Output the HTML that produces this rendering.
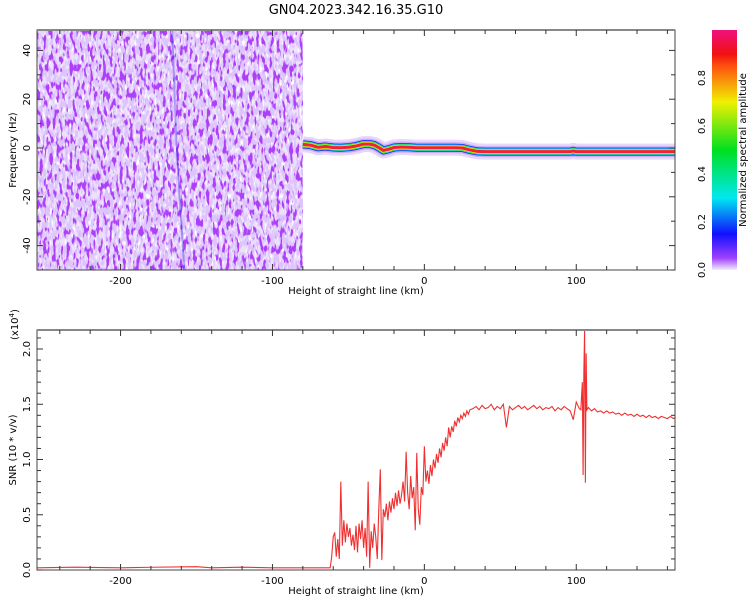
<!DOCTYPE html>
<html><head><meta charset="utf-8"><style>
body{margin:0;background:#fff;}
svg{display:block;font-family:"DejaVu Sans","Liberation Sans",sans-serif;}
</style></head><body>
<svg id="c" width="750" height="600" viewBox="0 0 750 600">
<defs>
<filter id="noiseDark" x="0" y="0" width="100%" height="100%">
<feTurbulence type="fractalNoise" baseFrequency="0.3 0.11" numOctaves="2" seed="3"/>
<feColorMatrix type="matrix" values="0 0 0 0 0.42  0 0 0 0 0.05  0 0 0 0 0.95  10 0 0 0 -5.4"/>
</filter>
<filter id="noiseLight" x="0" y="0" width="100%" height="100%">
<feTurbulence type="fractalNoise" baseFrequency="0.35 0.13" numOctaves="2" seed="11"/>
<feColorMatrix type="matrix" values="0 0 0 0 0.72  0 0 0 0 0.55  0 0 0 0 0.97  8 0 0 0 -3.4"/>
</filter>
<filter id="noiseWhite" x="0" y="0" width="100%" height="100%">
<feTurbulence type="fractalNoise" baseFrequency="0.4 0.15" numOctaves="1" seed="27"/>
<feColorMatrix type="matrix" values="0 0 0 0 1  0 0 0 0 1  0 0 0 0 1  10 0 0 0 -5.8"/>
</filter>
<linearGradient id="cbar" x1="0" y1="1" x2="0" y2="0">
<stop offset="0" stop-color="#f4ecfc"/><stop offset="0.05" stop-color="#a040ff"/>
<stop offset="0.15" stop-color="#1010ff"/><stop offset="0.3" stop-color="#00e8f0"/>
<stop offset="0.5" stop-color="#00e020"/><stop offset="0.7" stop-color="#f0f000"/>
<stop offset="0.85" stop-color="#ff5010"/><stop offset="0.9" stop-color="#f01010"/>
<stop offset="1" stop-color="#f01080"/>
</linearGradient>
<clipPath id="clipTop"><rect x="37" y="30" width="638" height="240"/></clipPath>
<clipPath id="clipBot"><rect x="37" y="330" width="638" height="240"/></clipPath>
</defs>
<text x="356" y="14" text-anchor="middle" font-size="13">GN04.2023.342.16.35.G10</text>
<g id="topPanel"></g>
<g id="botPanel"></g>
<g>
<rect x="712" y="30" width="25" height="240" fill="url(#cbar)"/>
<text transform="translate(746,150) rotate(-90)" text-anchor="middle" font-size="10">Normalized spectral amplitude</text>
<g id="cbt"></g>
</g>
</svg>
<script>
const NS='http://www.w3.org/2000/svg';
function mk(p,t,a){const e=document.createElementNS(NS,t);for(const k in a)e.setAttribute(k,a[k]);p.appendChild(e);return e;}
const xMin=-255,xMax=165,L=37,R=675;
const xTicks=[-200,-100,0,100];
const topYTicks=[-40,-20,0,20,40];
const botYTicks=[0.0,0.5,1.0,1.5,2.0];
const cbTicks=[0.0,0.2,0.4,0.6,0.8];
const noiseEndKm=-80;
const bandKm=[-80,-75,-70,-65,-60,-55,-50,-45,-40,-36,-33,-30,-27,-24,-20,-15,-10,-5,0,10,20,25,30,35,40,60,80,96,98,100,120,140,165];
const bandHz=[1.5,1.2,0.3,0.6,0.2,0.1,0.3,0.8,1.6,1.6,1.2,0.2,-1.0,-0.6,0.2,0.4,0.3,0.1,0.1,0.1,0.1,0.0,-0.8,-1.4,-1.5,-1.5,-1.5,-1.5,-1.2,-1.5,-1.5,-1.5,-1.5];
const snrKm=[-255,-230,-200,-180,-150,-140,-120,-100,-80,-63,
-62,-61,-60,-59,-58,-57,-56,-55,-54,-53,-52,-51,-50,-49,-48,-47,-46,-45,-44,-43,-42,-41,-40,-39,-38,-37,-36,-35,-34,-33,-32,-31,-30,-29,-28,-27,-26,-25,-24,-23,-22,-21,-20,-19,-18,-17,-16,-15,-14,-13,-12,-11,-10,-9,-8,-7,-6,-5,-4,-3,-2,-1,0,1,2,3,4,5,6,7,8,9,10,11,12,13,14,15,16,17,18,19,20,21,22,23,24,25,26,27,28,29,30,
32,34,36,38,40,42,44,46,48,50,52,54,56,58,60,62,64,66,68,70,72,74,76,78,80,82,84,86,88,90,92,94,96,98,100,102,
103,104,104.5,105,105.5,106,106.5,107,108,
110,112,114,116,118,120,122,124,126,128,130,132,134,136,138,140,142,144,146,148,150,152,154,156,158,160,162,164,165];
const snrVal=[0.02,0.025,0.02,0.025,0.03,0.02,0.025,0.02,0.02,0.02,
0.02,0.12,0.30,0.34,0.12,0.28,0.10,0.80,0.22,0.45,0.25,0.42,0.30,0.38,0.22,0.32,0.18,0.40,0.16,0.42,0.28,0.45,0.20,0.38,0.12,0.80,0.02,0.35,0.20,0.42,0.30,0.10,0.55,0.91,0.09,0.55,0.48,0.60,0.45,0.62,0.52,0.65,0.55,0.70,0.58,0.72,0.60,0.68,0.80,0.62,1.07,0.70,0.55,0.85,0.65,0.75,0.36,1.06,0.55,0.41,0.75,0.68,1.12,0.80,0.90,0.78,0.95,0.85,1.00,0.92,1.05,0.97,1.10,1.02,1.15,1.08,1.20,1.12,1.29,1.20,1.30,1.25,1.35,1.30,1.38,1.34,1.40,1.37,1.42,1.39,1.44,1.41,1.45,
1.46,1.48,1.45,1.49,1.46,1.47,1.50,1.45,1.48,1.46,1.50,1.29,1.48,1.45,1.47,1.49,1.46,1.48,1.45,1.47,1.49,1.46,1.48,1.45,1.47,1.46,1.48,1.44,1.47,1.45,1.48,1.46,1.44,1.36,1.52,1.46,
1.45,1.70,0.86,1.80,2.17,0.79,1.96,1.45,1.47,
1.44,1.46,1.43,1.44,1.42,1.44,1.42,1.43,1.41,1.42,1.40,1.42,1.40,1.41,1.39,1.41,1.39,1.40,1.38,1.40,1.38,1.39,1.37,1.39,1.38,1.37,1.39,1.37,1.38];

const X=v=>L+(v-xMin)/(xMax-xMin)*(R-L);
const Yt=v=>148-v*2.44;
const Yb=v=>570-v*110.5;

function frame(g,y0,y1,yTicksMaj,yMinorStep,yMin,yMax,Y,fmt){
  mk(g,'rect',{x:L,y:y0,width:R-L,height:y1-y0,fill:'none',stroke:'#444','stroke-width':1});
  mk(g,'line',{x1:L,y1:y0,x2:R,y2:y0,stroke:'#888','stroke-width':2});
  for(let v=-240;v<=160;v+=20){const x=X(v);const maj=xTicks.includes(v);const len=maj?6:4;
    mk(g,'line',{x1:x,y1:y0,x2:x,y2:y0+len,stroke:'#333'});
    mk(g,'line',{x1:x,y1:y1,x2:x,y2:y1-len,stroke:'#333'});}
  xTicks.forEach(v=>{const t=mk(g,'text',{x:X(v),y:y1+14,'text-anchor':'middle','font-size':10});t.textContent=v;
    
    });
  for(let i=0;yMin+i*yMinorStep<=yMax+1e-9;i++){const v=yMin+i*yMinorStep;const y=Y(v);if(y<y0-0.5||y>y1+0.5)continue;
    const maj=yTicksMaj.some(m=>Math.abs(m-v)<1e-6);const len=maj?6:4;
    mk(g,'line',{x1:L,y1:y,x2:L+len,y2:y,stroke:'#333'});
    mk(g,'line',{x1:R,y1:y,x2:R-len,y2:y,stroke:'#333'});}
  yTicksMaj.forEach(v=>{const y=Y(v);const t=mk(g,'text',{transform:`translate(30,${y}) rotate(-90)`,'text-anchor':'middle','font-size':10});t.textContent=fmt(v);
    
    });
  const xl=mk(g,'text',{x:356,y:y1+24,'text-anchor':'middle','font-size':10});xl.textContent='Height of straight line (km)';
  
  
}
const topG=document.getElementById('topPanel');
const nx0=X(xMin),nx1=X(noiseEndKm);
const bg=mk(topG,'rect',{x:nx0,y:30,width:nx1-nx0,height:240,fill:'#ece0fb'});


const nw=mk(topG,'rect',{x:nx0,y:30,width:nx1-nx0,height:240,filter:'url(#noiseWhite)'});


const nl=mk(topG,'rect',{x:nx0,y:30,width:nx1-nx0,height:240,filter:'url(#noiseLight)'});


const nd=mk(topG,'rect',{x:nx0,y:30,width:nx1-nx0,height:240,filter:'url(#noiseDark)'});


const streak=mk(topG,'path',{d:`M${X(-166)},30 L${X(-163)},150 L${X(-158)},270`,stroke:'#3020e0','stroke-width':2,fill:'none',opacity:0.35});


const bandPts=bandKm.map((k,i)=>X(k)+','+Yt(bandHz[i])).join(' ');
[['#e6d6fa',16,1],['#c4a0f4',11,0.8],['#2020ff',8,1],['#00d8e8',6.5,1],['#40e040',5.5,1],['#f0f000',4.2,1],['#f02040',3,1]].forEach(s=>{
  const p=mk(topG,'polyline',{points:bandPts,fill:'none',stroke:s[0],'stroke-width':s[1],opacity:s[2],'stroke-linejoin':'round','clip-path':'url(#clipTop)'});
  
  });
frame(topG,30,270,topYTicks,10,-50,50,Yt,v=>v);
const yl=mk(topG,'text',{transform:'translate(16,150) rotate(-90)','text-anchor':'middle','font-size':10});yl.textContent='Frequency (Hz)';


const botG=document.getElementById('botPanel');
const line=mk(botG,'polyline',{points:snrKm.map((k,i)=>X(k)+','+Yb(snrVal[i])).join(' '),fill:'none',stroke:'#f03030','stroke-width':1.1,'clip-path':'url(#clipBot)'});


frame(botG,330,570,botYTicks,0.1,0,2.2,Yb,v=>v.toFixed(1));
const yl2=mk(botG,'text',{transform:'translate(16,450) rotate(-90)','text-anchor':'middle','font-size':10});yl2.textContent='SNR (10 * v/v)';


const sc=mk(botG,'text',{transform:'translate(18,340) rotate(-90)','font-size':10});sc.innerHTML='(x10<tspan dy="-4" font-size="7">4</tspan><tspan dy="4">)</tspan>';


const cbt=document.getElementById('cbt');
cbTicks.forEach(v=>{const y=270-v*240;const t=mk(cbt,'text',{transform:`translate(705,${y}) rotate(-90)`,'text-anchor':'middle','font-size':10});t.textContent=v.toFixed(1);
  
  });
</script>
</body></html>
